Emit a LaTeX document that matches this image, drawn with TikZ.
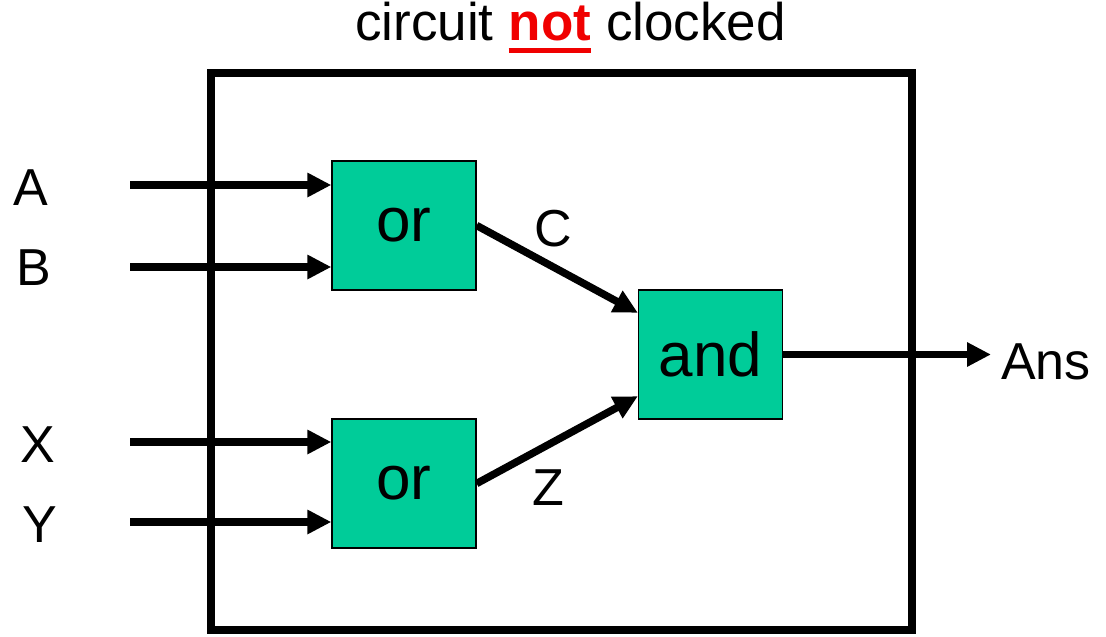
\documentclass[tikz,border=0pt]{standalone}
\usepackage{fontspec}
\setmainfont{Liberation Sans}
\usepackage{tikz}
\usetikzlibrary{arrows.meta,calc,positioning}

\definecolor{gategreen}{RGB}{0,204,153}
\definecolor{notred}{RGB}{240,0,0}

\tikzset{
  gatebox/.style={draw, fill=gategreen, line width=1.3pt, minimum width=144, minimum height=129,
    inner sep=0, font=\fontsize{62}{66}\selectfont},
  sig/.style={line width=7.5pt, -{Triangle[length=24pt,width=23pt]}},
  lbl/.style={font=\fontsize{52}{56}\selectfont, inner sep=0},
  ttl/.style={font=\fontsize{53}{58}\selectfont, inner sep=0, anchor=base west},
}

\begin{document}
\begin{tikzpicture}[x=1pt,y=-1pt]
    \useasboundingbox (0,0) rectangle (1106,637);
    % outer box
    \draw[line width=8pt] (211,73) rectangle (912,630);
    \node[ttl] (titleL) at (355,40) {circuit};
    \node[ttl, font=\fontsize{53}{58}\selectfont\bfseries, text=notred]
        (notword) at ([xshift=14.7pt]titleL.base east) {not};
    \node[ttl] (titleR) at ([xshift=14.7pt]notword.base east) {clocked};
    \draw[notred, line width=5pt] ([yshift=-10pt]notword.base west) -- ([yshift=-10pt]notword.base east);
    % gates
    \node[gatebox] (or1) at (404,225.5) {or};
    \node[gatebox] (or2) at (404,483.5) {or};
    \node[gatebox] (and) at (710.5,354.5) {and};
    % inputs
    \node[lbl] (labA) at (31,188) {A};
    \node[lbl] (labB) at (34,268) {B};
    \node[lbl] (labX) at (38,445) {X};
    \node[lbl] (labY) at (40,525) {Y};
    \coordinate (inA) at (130,185);
    \coordinate (inB) at (130,267);
    \coordinate (inX) at (130,442);
    \coordinate (inY) at (130,522);
    \draw[sig] (inA) -- (inA -| or1.west);
    \draw[sig] (inB) -- (inB -| or1.west);
    \draw[sig] (inX) -- (inX -| or2.west);
    \draw[sig] (inY) -- (inY -| or2.west);
    % inner wires
    \draw[sig] (or1.east) -- ($(and.north west)!0.18!(and.south west)$);
    \draw[sig] (or2.east) -- ($(and.north west)!0.82!(and.south west)$);
    \node[lbl] (labC) at (553,229) {C};
    \node[lbl] (labZ) at (548,488) {Z};
    % output
    \node[lbl] (labAns) at (1046,362) {Ans};
    \draw[sig] (and.east) -- ([xshift=-10pt]labAns.west |- and.east);
\end{tikzpicture}
\end{document}
